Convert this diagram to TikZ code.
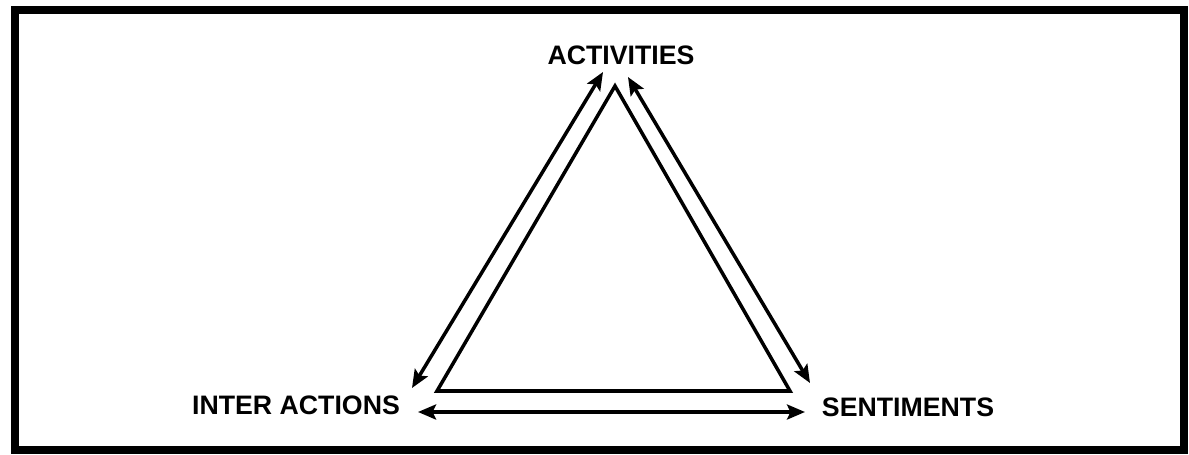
\documentclass[tikz,border=0pt]{standalone}
\usepackage{fontspec}
\setmainfont{Liberation Sans}
\usetikzlibrary{arrows.meta}

\begin{document}
\begin{tikzpicture}[
    >={Stealth[length=0.36cm, width=0.30cm, inset=0.07cm]},
    lbl/.style={font=\fontsize{15.2}{17}\selectfont\bfseries, inner sep=0pt},
    side/.style={line width=2pt, line join=miter},
    link/.style={<->, line width=2pt},
    frame/.style={line width=4.5pt},
]
\useasboundingbox (0,0) rectangle (23.78,9.08);
\draw[frame] (0.30,0.08) rectangle (23.68,8.88);

% labels at the corners
\node[lbl] (act)   at (12.42,7.98) {ACTIVITIES};
\node[lbl] (inter) at (5.92,0.98)  {INTER ACTIONS};
\node[lbl] (sent)  at (18.16,0.94) {SENTIMENTS};

% inner triangle
\coordinate (top) at (12.30,7.36);
\coordinate (bl)  at (8.74,1.26);
\coordinate (br)  at (15.80,1.26);
\draw[side] (top) -- (bl) -- (br) -- cycle;

% two-way links
\coordinate (aL) at (12.06,7.64);
\coordinate (iT) at (8.24,1.32);
\coordinate (aR) at (12.56,7.54);
\coordinate (sT) at (16.20,1.42);
\coordinate (iR) at (8.36,0.84);
\coordinate (sL) at (16.10,0.84);
\draw[link] (aL) -- (iT);
\draw[link] (aR) -- (sT);
\draw[link] (iR) -- (sL);
\end{tikzpicture}
\end{document}
